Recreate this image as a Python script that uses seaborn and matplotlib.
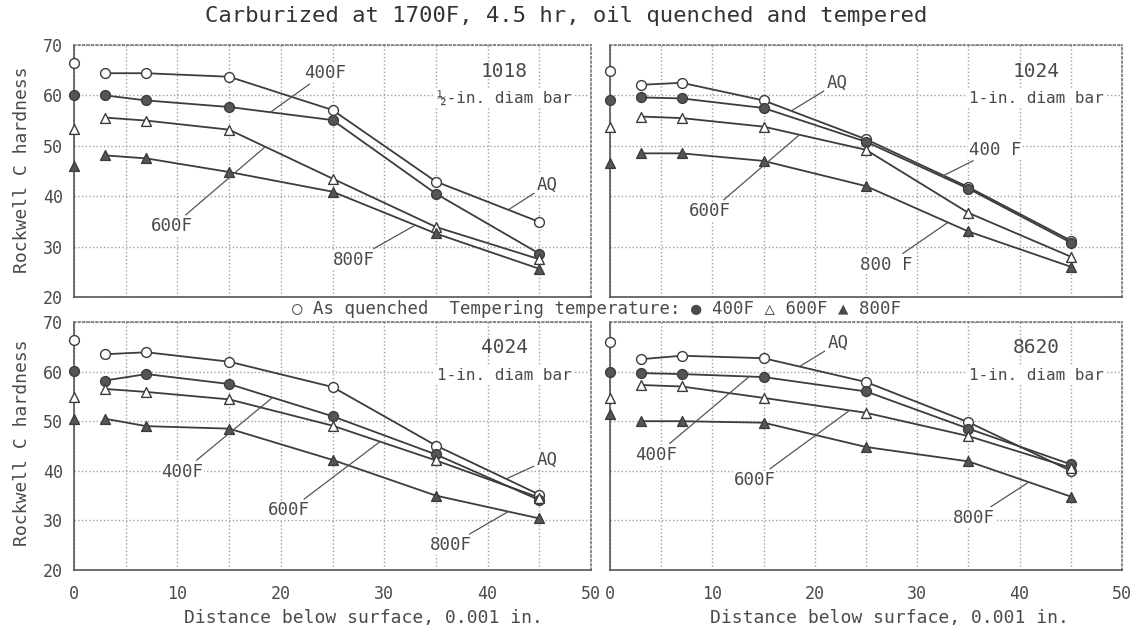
import numpy as np
import pandas as pd
import matplotlib
matplotlib.use("Agg")
import matplotlib.pyplot as plt
import seaborn as sns

# ---------------- data ----------------
depth = [3, 7, 15, 25, 35, 45]          # distance below surface, 0.001 in.
conditions = ["AQ", "400F", "600F", "800F"]

# 1018, 1/2-in. diam bar
aq_1018 = [64.4, 64.4, 63.7, 57.1, 42.9, 34.9]
t400_1018 = [60.0, 59.0, 57.7, 55.1, 40.5, 28.6]
t600_1018 = [55.6, 55.0, 53.2, 43.5, 33.9, 27.5]
t800_1018 = [48.1, 47.5, 44.8, 40.9, 32.6, 25.6]
surf_1018 = [66.4, 60.0, 53.3, 46.0]

# 1024, 1-in. diam bar
aq_1024 = [62.1, 62.5, 59.0, 51.3, 41.8, 31.2]
t400_1024 = [59.6, 59.4, 57.5, 50.8, 41.5, 30.8]
t600_1024 = [55.8, 55.5, 53.8, 49.2, 36.7, 28.0]
t800_1024 = [48.5, 48.5, 47.0, 42.0, 33.0, 26.0]
surf_1024 = [64.8, 59.1, 53.7, 46.6]

# 4024, 1-in. diam bar
aq_4024 = [63.5, 63.9, 62.0, 56.9, 45.1, 35.2]
t400_4024 = [58.2, 59.5, 57.5, 51.0, 43.3, 34.1]
t600_4024 = [56.5, 55.9, 54.4, 49.1, 42.1, 34.6]
t800_4024 = [50.5, 49.0, 48.5, 42.2, 35.0, 30.4]
surf_4024 = [66.4, 60.2, 54.8, 50.4]

# 8620, 1-in. diam bar
aq_8620 = [62.5, 63.2, 62.7, 57.9, 49.8, 40.0]
t400_8620 = [59.7, 59.5, 58.9, 56.0, 48.5, 41.3]
t600_8620 = [57.3, 57.0, 54.7, 51.7, 47.0, 40.6]
t800_8620 = [50.0, 50.0, 49.7, 44.8, 41.9, 34.8]
surf_8620 = [65.9, 60.0, 54.7, 51.5]

steels = ["1018", "1024", "4024", "8620"]
bar_sizes = ["½-in. diam bar", "1-in. diam bar", "1-in. diam bar", "1-in. diam bar"]
x_ticks = [0, 10, 20, 30, 40, 50]
y_ticks = [20, 30, 40, 50, 60, 70]

title = "Carburized at 1700F, 4.5 hr, oil quenched and tempered"
legend_text = "○ As quenched  Tempering temperature: ● 400F △ 600F ▲ 800F"
xlabel = "Distance below surface, 0.001 in."
ylabel = "Rockwell C hardness"

series = {
    "1018": [aq_1018, t400_1018, t600_1018, t800_1018, surf_1018],
    "1024": [aq_1024, t400_1024, t600_1024, t800_1024, surf_1024],
    "4024": [aq_4024, t400_4024, t600_4024, t800_4024, surf_4024],
    "8620": [aq_8620, t400_8620, t600_8620, t800_8620, surf_8620],
}

# curve labels: (condition, text, x on curve, text x, text y)
curve_labels = {
    "1018": [("400F", "400F", 19.0, 24.3, 64.5), ("600F", "600F", 18.5, 9.5, 34.0),
             ("800F", "800F", 33.0, 27.1, 27.4), ("AQ", "AQ", 42.0, 45.8, 42.3)],
    "1024": [("AQ", "AQ", 17.7, 22.2, 62.5), ("400F", "400 F", 32.4, 37.6, 49.2),
             ("600F", "600F", 18.5, 9.8, 37.0), ("800F", "800 F", 33.0, 27.0, 26.4)],
    "4024": [("400F", "400F", 19.2, 10.5, 39.8), ("600F", "600F", 29.6, 20.8, 32.0),
             ("800F", "800F", 42.0, 36.4, 25.0), ("AQ", "AQ", 41.8, 45.8, 42.2)],
    "8620": [("AQ", "AQ", 18.5, 22.3, 65.8), ("400F", "400F", 13.6, 4.5, 43.2),
             ("600F", "600F", 23.4, 14.1, 38.1), ("800F", "800F", 40.9, 35.5, 30.5)],
}

# ---------------- style ----------------
sns.set_theme(style="white")
plt.rcParams["font.family"] = ["DejaVu Sans Mono", "DejaVu Sans"]

ink = "#3c3c3c"
txt = "#4a4a4a"
grid_c = "#a0a0a0"
marker_style = {
    "AQ": ("o", "white"),
    "400F": ("o", "#555555"),
    "600F": ("^", "white"),
    "800F": ("^", "#555555"),
}

W, H = 1135, 633
fig = plt.figure(figsize=(W / 100, H / 100), dpi=100)

boxes = {
    "1018": (74, 45, 591, 297),
    "1024": (610, 45, 1122, 297),
    "4024": (74, 322, 591, 570),
    "8620": (610, 322, 1122, 570),
}

for i, steel in enumerate(steels):
    x0, y0, x1, y1 = boxes[steel]
    ax = fig.add_axes([x0 / W, 1 - y1 / H, (x1 - x0) / W, (y1 - y0) / H])
    vals = series[steel]
    prof = pd.DataFrame({
        "depth": depth * 4,
        "hardness": sum(vals[:4], []),
        "cond": np.repeat(conditions, len(depth)),
    })
    surf = pd.DataFrame({"depth": [0] * 4, "hardness": vals[4], "cond": conditions})
    pts = pd.concat([surf, prof], ignore_index=True)

    sns.lineplot(data=prof, x="depth", y="hardness", units="cond", estimator=None,
                 color=ink, lw=1.3, ax=ax, legend=False, zorder=2)
    for c in conditions:
        m, fc = marker_style[c]
        sns.scatterplot(data=pts[pts["cond"] == c], x="depth", y="hardness",
                        marker=m, color=fc, edgecolor=ink, linewidth=1.0,
                        s=50, ax=ax, legend=False, zorder=3)
    for coll in ax.collections:
        coll.set_clip_on(False)

    ax.set_xlim(0, 50)
    ax.set_ylim(20, 70)
    ax.set_xticks(x_ticks)
    ax.set_xticks(np.arange(5, 50, 10), minor=True)
    ax.set_yticks(y_ticks)
    ax.grid(True, which="both", axis="x", linestyle=":", color=grid_c, lw=1.0)
    ax.grid(True, which="major", axis="y", linestyle=":", color=grid_c, lw=1.0)
    ax.tick_params(length=0, which="both", labelsize=12, labelcolor=txt, pad=8)
    ax.set_xlabel("")
    ax.set_ylabel("")
    for side in ["left", "bottom"]:
        ax.spines[side].set_color("#555555")
        ax.spines[side].set_linewidth(1.2)
    for side in ["top", "right"]:
        ax.spines[side].set_color("#777777")
        ax.spines[side].set_linestyle(":")
        ax.spines[side].set_linewidth(1.2)
    if i in (0, 1):
        ax.tick_params(labelbottom=False)
    else:
        ax.tick_params(axis="x", pad=11)
    if i in (1, 3):
        ax.tick_params(labelleft=False)

    # panel identification
    ax.text(41.6, 64.8, steel, fontsize=14, color=txt, ha="center", va="center")
    ax.text(41.6, 59.3, bar_sizes[i], fontsize=11.5, color=txt, ha="center", va="center",
            bbox=dict(facecolor="white", edgecolor="none", pad=1.0))

    # curve labels with leader lines
    for cond, lab, xc, tx, ty in curve_labels[steel]:
        yc = np.interp(xc, depth, vals[conditions.index(cond)])
        ax.annotate(lab, xy=(xc, yc), xytext=(tx, ty), fontsize=12.5, color=txt,
                    ha="center", va="center",
                    bbox=dict(facecolor="white", edgecolor="none", pad=0.5),
                    arrowprops=dict(arrowstyle="-", color="#555555", lw=0.9,
                                    shrinkA=2, shrinkB=0))

fig.text(566 / W, 1 - 16 / H, title, fontsize=16, color="#333333", ha="center", va="center")
fig.text(597 / W, 1 - 309 / H, legend_text, fontsize=12.5, color=txt, ha="center", va="center")
fig.text(363 / W, 1 - 618 / H, xlabel, fontsize=13, color=txt, ha="center", va="center")
fig.text(889 / W, 1 - 618 / H, xlabel, fontsize=13, color=txt, ha="center", va="center")
fig.text(22 / W, 1 - 170 / H, ylabel, fontsize=13, color=txt, ha="center", va="center",
         rotation=90)
fig.text(22 / W, 1 - 443 / H, ylabel, fontsize=13, color=txt, ha="center", va="center",
         rotation=90)

fig.savefig("out.png", dpi=100, facecolor="white")
